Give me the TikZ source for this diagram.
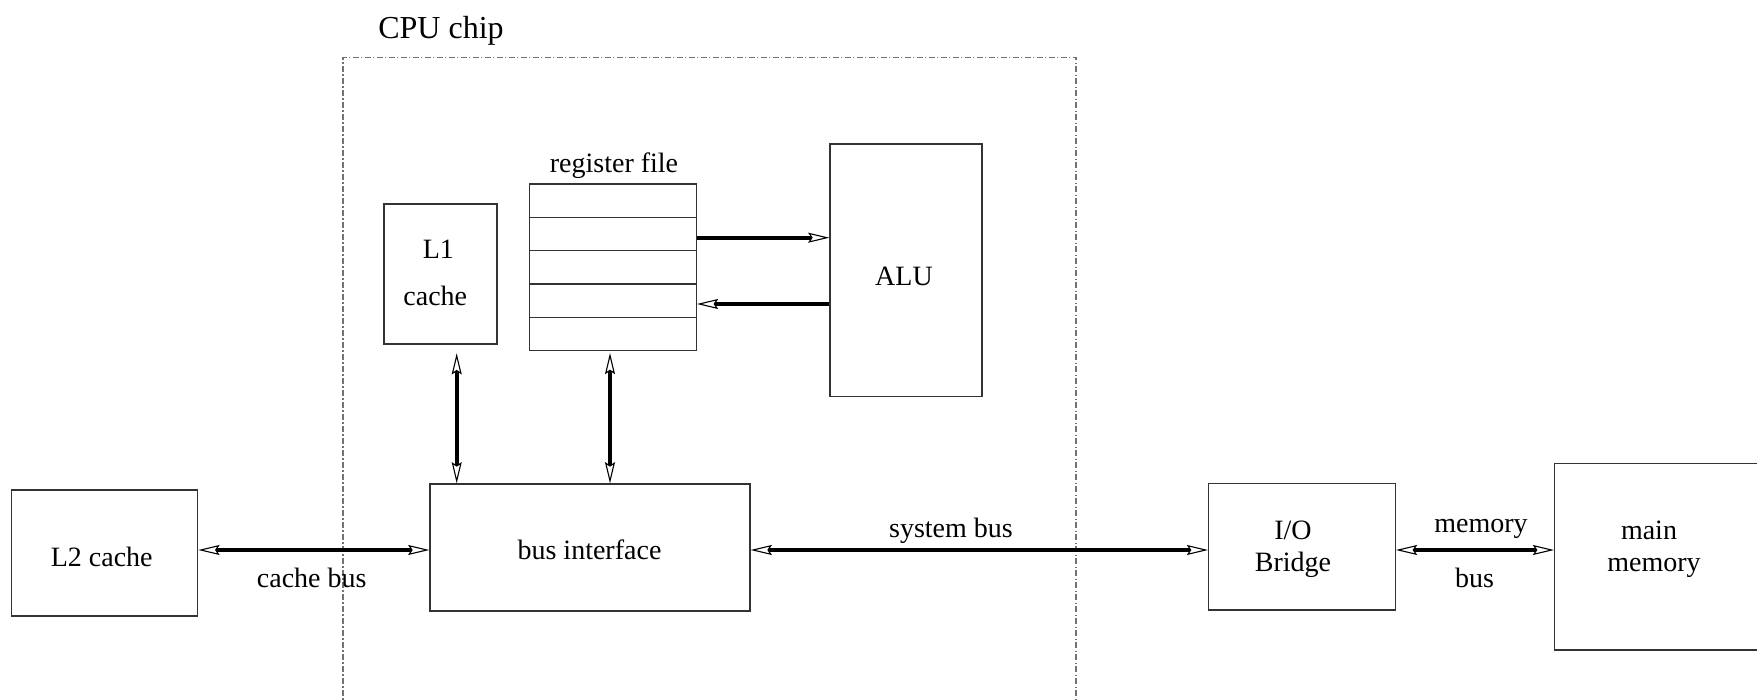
\documentclass[tikz,border=0pt]{standalone}
\usepackage{fontspec}
\setmainfont{Liberation Serif}
\usetikzlibrary{arrows.meta}
\begin{document}
\begin{tikzpicture}[x=0.5pt,y=-0.5pt,
  >={Stealth[fill=white, length=10.6pt, width=5pt, inset=1.6pt, line width=0.55pt]},
  box/.style={draw=black!80, line width=0.65pt, inner sep=0pt},
  txt/.style={inner sep=0pt, anchor=base, font=\fontsize{14}{15.85}\selectfont},
  bus/.style={line width=2pt, <->},
  bus1/.style={line width=2pt, ->},
  cpu/.style={draw=black!55, line width=0.55pt, dash pattern=on 3pt off 1.2pt on 0.6pt off 1.2pt},
]
\useasboundingbox (0,0) rectangle (1757,700);

% CPU chip outline
\draw[cpu] (343,720) -- (343,57.7) -- (1076,57.7) -- (1076,720);
\node[txt, font=\fontsize{16}{18}\selectfont] (cpulabel) at (441,39) {CPU chip};

% boxes
\node[box, minimum width=93pt, minimum height=63pt] (l2) at (104.7,553) {};
\node[box, minimum width=160pt, minimum height=63.5pt] (bi) at (590,547.5) {};
\node[box, minimum width=93.3pt, minimum height=63.35pt] (io) at (1302,546.7) {};
\node[box, minimum width=102.65pt, minimum height=93.35pt] (mm) at (1657.35,556.7) {};
\node[box, minimum width=56.5pt, minimum height=70pt] (l1) at (440.5,274) {};
\node[box, minimum width=76pt, minimum height=126.35pt] (alu) at (906,270.3) {};

% register file
\foreach \i/\y in {1/200.7,2/234,3/267.3,4/300.7,5/334}
  \node[box, minimum width=83.25pt, minimum height=16.67pt] (r\i) at (613,\y) {};
\node[txt] (rflabel) at (614,173) {register file};

% box texts
\node[txt] (l2t) at (101.7,566) {L2 cache};
\node[txt] (bit) at (589.5,559) {bus interface};
\node[txt] (iot1) at (1293,539.5) {I/O};
\node[txt] (iot2) at (1293,571.5) {Bridge};
\node[txt] (mmt1) at (1649,539.5) {main};
\node[txt] (mmt2) at (1654,571.5) {memory};
\node[txt] (alut) at (904,285.5) {ALU};
\node[txt] (l1t1) at (438.3,259) {L1};
\node[txt] (l1t2) at (435.3,305.5) {cache};

% buses
\coordinate (ay) at (0,550);
\draw[bus] (l2.east |- ay) -- (bi.west |- ay);
\draw[bus] (bi.east |- ay) -- (io.west |- ay);
\draw[bus] (io.east |- ay) -- (mm.west |- ay);

\coordinate (l1x) at (456.7,0);
\coordinate (rfx) at (610,0);
\draw[bus, shorten >=4.3pt] (bi.north -| l1x) -- (l1.south -| l1x);
\draw[bus, shorten >=0.8pt] (bi.north -| rfx) -- (r5.south -| rfx);

\coordinate (ya) at (0,237.7);
\coordinate (yb) at (0,304);
\draw[bus1] (r2.east |- ya) -- (alu.west |- ya);
\draw[bus1] (alu.west |- yb) -- (r4.east |- yb);

% bus labels
\node[txt] (cachebus) at (311.7,587.5) {cache bus};
\node[txt] (sysbus) at (951,537.5) {system bus};
\node[txt] (membus1) at (1481,532.5) {memory};
\node[txt] (membus2) at (1474.5,587) {bus};
\end{tikzpicture}
\end{document}
